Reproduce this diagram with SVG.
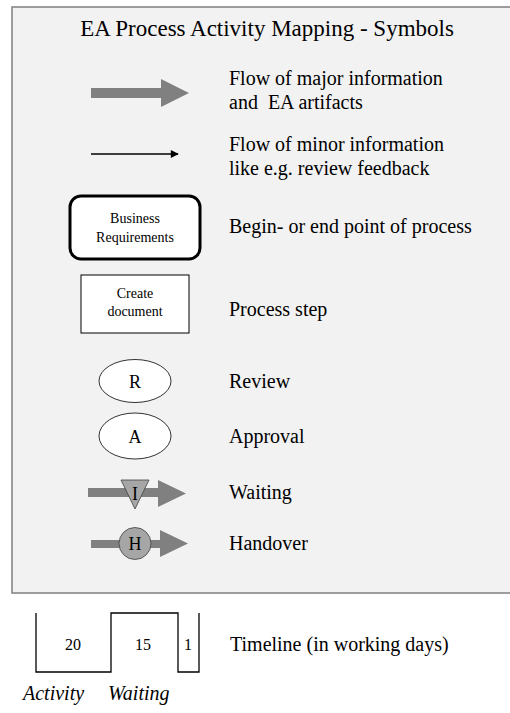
<svg xmlns="http://www.w3.org/2000/svg" width="510" height="713" viewBox="0 0 510 713">
<style>
text{font-family:"Liberation Serif","Times New Roman",serif;fill:#000}
.lbl{font-size:20px}
.sm{font-size:14px;text-anchor:middle}
.mid{font-size:18px;text-anchor:middle}
.num{font-size:16px;text-anchor:middle}
.it{font-size:20px;font-style:italic}
.fat{fill:#808080}
</style>
<defs>
<marker id="ah" viewBox="0 0 10 10" refX="9" refY="5" markerWidth="9" markerHeight="8" markerUnits="userSpaceOnUse" orient="auto"><path d="M0,0 L10,5 L0,10 Z" fill="#000"/></marker>
</defs>
<rect x="12" y="7" width="510" height="586" fill="#f2f2f2" stroke="#7f7f7f" stroke-width="1.5"/>
<text x="267" y="36" style="font-size:23px" text-anchor="middle">EA Process Activity Mapping - Symbols</text>
<g id="connectors">
<path class="fat" d="M91,88 H161 V79 L189,93 L161,107 V98 H91 Z"/>
<line x1="91" y1="154" x2="178" y2="154" stroke="#000" stroke-width="1.3" marker-end="url(#ah)"/>
</g>
<g id="legend-major"><text class="lbl" x="229" y="85">Flow of major information</text><text class="lbl" x="229" y="109">and&#160; EA artifacts</text></g>
<g id="legend-minor"><text class="lbl" x="229" y="151">Flow of minor information</text><text class="lbl" x="229" y="175">like e.g. review feedback</text></g>
<g id="node-begin">
<rect x="70" y="196" width="130" height="63" rx="11" fill="#fff" stroke="#000" stroke-width="3"/>
<text class="sm" x="135" y="223">Business</text><text class="sm" x="135" y="242">Requirements</text>
<text class="lbl" x="229" y="233">Begin- or end point of process</text>
</g>
<g id="node-process">
<rect x="81" y="275" width="108" height="58" fill="#fff" stroke="#000" stroke-width="1"/>
<text class="sm" x="135" y="298">Create</text><text class="sm" x="135" y="316">document</text>
<text class="lbl" x="229" y="316">Process step</text>
</g>
<g id="node-review">
<ellipse cx="135" cy="381" rx="36" ry="21.5" fill="#fff" stroke="#000" stroke-width="0.8"/>
<text class="mid" x="135" y="388">R</text>
<text class="lbl" x="229" y="388">Review</text>
</g>
<g id="node-approval">
<ellipse cx="135" cy="436" rx="36" ry="23" fill="#fff" stroke="#000" stroke-width="0.8"/>
<text class="mid" x="135" y="443">A</text>
<text class="lbl" x="229" y="443">Approval</text>
</g>
<g id="node-waiting">
<path class="fat" d="M88,488 H158 V480 L186,493.5 L158,507 V497 H88 Z"/>
<path d="M121,480 H149 L135,509 Z" fill="#a6a6a6" stroke="#404040" stroke-width="0.8"/>
<text class="mid" x="135" y="500">I</text>
<text class="lbl" x="229" y="499">Waiting</text>
</g>
<g id="node-handover">
<path class="fat" d="M91,540 H160 V530 L188,543.5 L160,557 V548 H91 Z"/>
<circle cx="135" cy="543.5" r="16" fill="#a6a6a6" stroke="#404040" stroke-width="0.8"/>
<text class="mid" x="135" y="550">H</text>
<text class="lbl" x="229" y="550">Handover</text>
</g>
<g id="timeline">
<path d="M36,613 V672 H111 V613 H178 V672 H199 V613" fill="none" stroke="#000" stroke-width="1.3"/>
<text class="num" x="73" y="650">20</text>
<text class="num" x="143" y="650">15</text>
<text class="num" x="188" y="650">1</text>
<text class="lbl" x="230" y="651">Timeline (in working days)</text>
<text class="it" x="23" y="700">Activity</text>
<text class="it" x="108" y="700">Waiting</text>
</g>
</svg>
